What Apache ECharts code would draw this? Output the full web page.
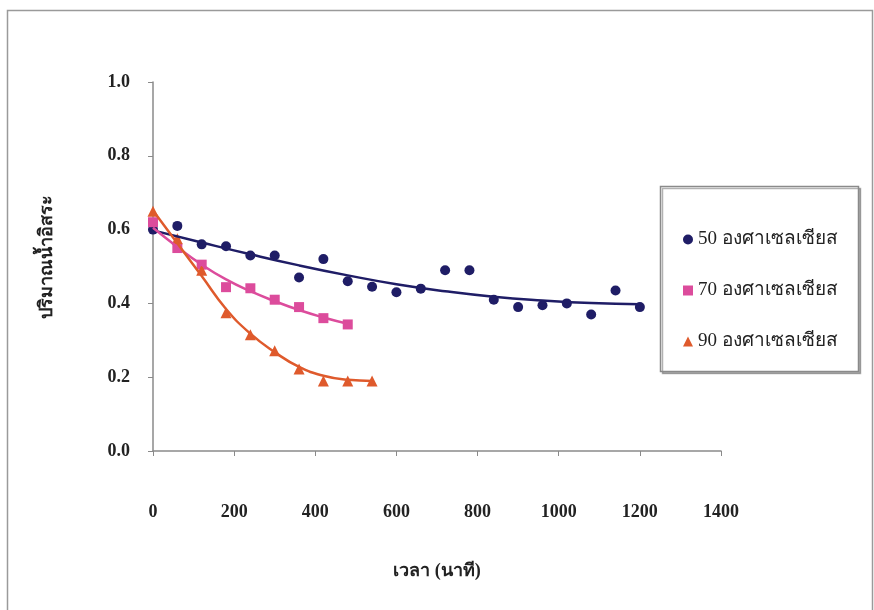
<!DOCTYPE html>
<html>
<head>
<meta charset="utf-8">
<script src="https://cdn.jsdelivr.net/npm/echarts@6/dist/echarts.min.js"></script>
<style>
  html, body { margin: 0; padding: 0; background: #fff; }
  #chart { width: 874px; height: 610px; }
</style>
</head>
<body>
<div id="chart"></div>
<script>
// เวลา (นาที) - time of each measurement
var time50 = [0, 60, 120, 180, 240, 300, 360, 420, 480, 540, 600, 660, 720, 780, 840, 900, 960, 1020, 1080, 1140, 1200];
var water50 = [0.60, 0.61, 0.56, 0.555, 0.53, 0.53, 0.47, 0.52, 0.46, 0.445, 0.43, 0.44, 0.49, 0.49, 0.41, 0.39, 0.395, 0.40, 0.37, 0.435, 0.39];

var time70 = [0, 60, 120, 180, 240, 300, 360, 420, 480];
var water70 = [0.62, 0.55, 0.505, 0.444, 0.441, 0.41, 0.39, 0.36, 0.343];

var time90 = [0, 60, 120, 180, 240, 300, 360, 420, 480, 540];
var water90 = [0.65, 0.575, 0.49, 0.375, 0.315, 0.272, 0.222, 0.19, 0.19, 0.19];

// trend lines
var trendTime50 = [0, 120, 240, 360, 480, 600, 720, 840, 960, 1080, 1200];
var trend50 = [0.598, 0.565, 0.533, 0.503, 0.476, 0.452, 0.433, 0.418, 0.408, 0.401, 0.398];
var trendTime70 = [0, 60, 120, 180, 240, 300, 360, 420, 480];
var trend70 = [0.605, 0.553, 0.505, 0.465, 0.433, 0.406, 0.382, 0.362, 0.345];
var trendTime90 = [0, 60, 120, 180, 240, 300, 360, 420, 480, 540];
var trend90 = [0.652, 0.563, 0.474, 0.385, 0.318, 0.268, 0.228, 0.204, 0.193, 0.19];

var seriesNames = ['50 องศาเซลเซียส', '70 องศาเซลเซียส', '90 องศาเซลเซียส'];
var colors = ['#1f1d66', '#dc4c9c', '#df5a2c'];
var xTicks = [0, 200, 400, 600, 800, 1000, 1200, 1400];
var yTicks = [0, 0.2, 0.4, 0.6, 0.8, 1.0];

function pairs(xs, ys) {
  return xs.map(function (x, i) { return [x, ys[i]]; });
}

var font = "'Liberation Serif', 'Noto Sans', serif";
var myChart = echarts.init(document.getElementById('chart'));

myChart.setOption({
  animation: false,
  textStyle: { fontFamily: font },
  graphic: [
    // outer frame
    { type: 'rect', shape: { x: 7.5, y: 10.5, width: 865, height: 620 },
      style: { fill: 'none', stroke: '#9a9a9a', lineWidth: 1.5 }, z: 0 },
    // legend box
    { type: 'rect', shape: { x: 660.5, y: 186.5, width: 198, height: 185 },
      style: { fill: '#fff', stroke: '#8a8a8a', lineWidth: 1.5, shadowColor: 'rgba(0,0,0,0.3)', shadowOffsetX: 2, shadowOffsetY: 2 }, z: 5 }
  ],
  grid: { left: 153, right: 153, top: 82, bottom: 159 },
  legend: {
    data: seriesNames,
    orient: 'vertical',
    left: 678,
    top: 225,
    itemGap: 32,
    itemWidth: 10,
    itemHeight: 10,
    zlevel: 1,
    textStyle: { fontFamily: font, fontSize: 19, color: '#222' }
  },
  xAxis: {
    type: 'value',
    min: xTicks[0],
    max: xTicks[xTicks.length - 1],
    interval: 200,
    name: 'เวลา (นาที)',
    nameLocation: 'middle',
    nameGap: 111,
    nameTextStyle: { fontFamily: font, fontSize: 18, fontWeight: 'bold', color: '#222' },
    axisLine: { lineStyle: { color: '#8a8a8a', width: 1.5 } },
    axisTick: { length: 5, lineStyle: { color: '#8a8a8a' } },
    axisLabel: {
      margin: 52, fontSize: 18, fontWeight: 'bold', color: '#222', fontFamily: font,
      formatter: function (v) { return String(v); }
    },
    splitLine: { show: false }
  },
  yAxis: {
    type: 'value',
    min: yTicks[0],
    max: yTicks[yTicks.length - 1],
    interval: 0.2,
    name: 'ปริมาณน้ำอิสระ',
    nameLocation: 'middle',
    nameGap: 97,
    nameTextStyle: { fontFamily: font, fontSize: 18, fontWeight: 'bold', color: '#222', padding: [0, 0, 0, 20] },
    axisLine: { show: true, lineStyle: { color: '#8a8a8a', width: 1.5 } },
    axisTick: { show: true, length: 5, lineStyle: { color: '#8a8a8a' } },
    axisLabel: {
      margin: 23, fontSize: 18, fontWeight: 'bold', color: '#222', fontFamily: font,
      formatter: function (v) { return v.toFixed(1); }
    },
    splitLine: { show: false }
  },
  series: [
    { type: 'line', data: pairs(trendTime50, trend50), smooth: true, showSymbol: false,
      lineStyle: { color: colors[0], width: 2.5 }, silent: true },
    { type: 'line', data: pairs(trendTime70, trend70), smooth: true, showSymbol: false,
      lineStyle: { color: colors[1], width: 2.5 }, silent: true },
    { type: 'line', data: pairs(trendTime90, trend90), smooth: true, showSymbol: false,
      lineStyle: { color: colors[2], width: 2.5 }, silent: true },
    { name: seriesNames[0], type: 'scatter', data: pairs(time50, water50), symbol: 'circle', symbolSize: 10,
      itemStyle: { color: colors[0], opacity: 1 } },
    { name: seriesNames[1], type: 'scatter', data: pairs(time70, water70), symbol: 'rect', symbolSize: 10,
      itemStyle: { color: colors[1], opacity: 1 } },
    { name: seriesNames[2], type: 'scatter', data: pairs(time90, water90), symbol: 'triangle', symbolSize: 11,
      itemStyle: { color: colors[2], opacity: 1 } }
  ]
});
</script>
</body>
</html>
